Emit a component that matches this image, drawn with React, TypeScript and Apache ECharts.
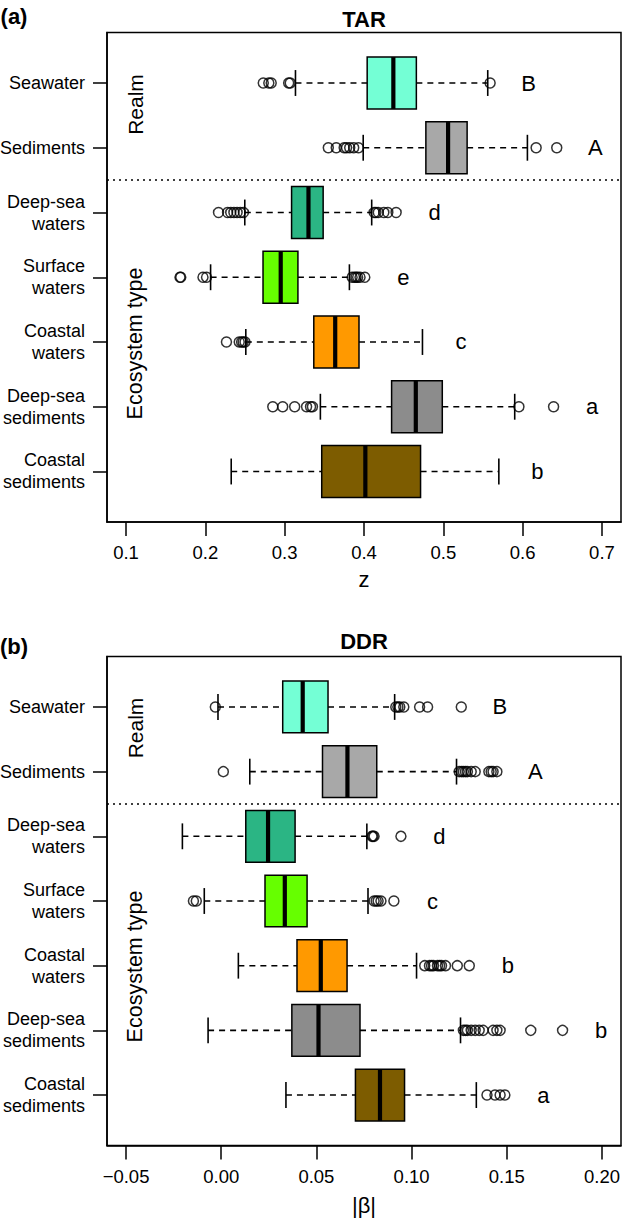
import React, { useEffect, useRef } from "react";
import * as echarts from "echarts";

const ROWS = [
  "Seawater",
  "Sediments",
  "Deep-sea\nwaters",
  "Surface\nwaters",
  "Coastal\nwaters",
  "Deep-sea\nsediments",
  "Coastal\nsediments",
];
const ROW_COLORS = ["#74FFD5", "#A8A8A8", "#2BB584", "#66FF00", "#FF9900", "#8C8C8C", "#7D5C00"];

// [lower whisker, Q1, median, Q3, upper whisker]
const TAR_STATS = [
  [0.3136, 0.404, 0.437, 0.466, 0.556],
  [0.399, 0.478, 0.506, 0.53, 0.606],
  [0.2497, 0.3087, 0.33, 0.3485, 0.4097],
  [0.2066, 0.2727, 0.295, 0.3167, 0.3816],
  [0.251, 0.3367, 0.3637, 0.3937, 0.4737],
  [0.345, 0.4348, 0.4653, 0.4987, 0.59],
  [0.2326, 0.3467, 0.4017, 0.4713, 0.57],
];
const TAR_OUTLIERS = [
  [0.273, 0.28, 0.283, 0.305, 0.307, 0.559],
  [0.355, 0.365, 0.375, 0.378, 0.382, 0.387, 0.393, 0.617, 0.643],
  [0.2166, 0.228, 0.232, 0.236, 0.24, 0.244, 0.248, 0.4128, 0.415, 0.418, 0.425, 0.43, 0.4405],
  [0.168, 0.169, 0.197, 0.2015, 0.385, 0.388, 0.39, 0.392, 0.395, 0.401],
  [0.2266, 0.2427, 0.2457, 0.2477, 0.25],
  [0.285, 0.2975, 0.3126, 0.3276, 0.3326, 0.335, 0.5953, 0.639],
  [],
];
const TAR_LETTERS = ["B", "A", "d", "e", "c", "a", "b"];
const TAR_TICKS = [0.1, 0.2, 0.3, 0.4, 0.5, 0.6, 0.7];

const DDR_STATS = [
  [-0.0017, 0.0323, 0.0428, 0.0561, 0.0911],
  [0.015, 0.0532, 0.0663, 0.0817, 0.1236],
  [-0.0204, 0.0129, 0.0246, 0.0388, 0.0765],
  [-0.0089, 0.023, 0.0334, 0.0451, 0.0771],
  [0.009, 0.0398, 0.0523, 0.0661, 0.1026],
  [-0.0069, 0.0371, 0.0511, 0.0729, 0.1257],
  [0.034, 0.0705, 0.0834, 0.0963, 0.134],
];
const DDR_OUTLIERS = [
  [-0.0031, 0.0917, 0.0928, 0.0938, 0.0959, 0.1042, 0.1084, 0.1261],
  [0.0011, 0.125, 0.1262, 0.1272, 0.1283, 0.1293, 0.1313, 0.1334, 0.1406, 0.1418, 0.1428, 0.1448],
  [0.0792, 0.0797, 0.0803, 0.0944],
  [-0.0146, -0.0131, 0.0803, 0.0814, 0.0824, 0.0839, 0.0907],
  [0.1069, 0.1094, 0.1105, 0.1115, 0.1136, 0.1147, 0.1157, 0.1178, 0.124, 0.1303],
  [0.1272, 0.1283, 0.1293, 0.1313, 0.1334, 0.1355, 0.1376, 0.1428, 0.1448, 0.1465, 0.1626, 0.1793],
  [0.1396, 0.1438, 0.1465, 0.149],
];
const DDR_LETTERS = ["B", "A", "d", "c", "b", "b", "a"];
const DDR_TICKS = [-0.05, 0, 0.05, 0.1, 0.15, 0.2];

const FONT = "'Liberation Sans', Arial, Helvetica, sans-serif";
const ROW_VALUES = [1, 2, 3, 4, 5, 6, 7];

function boxSeries(stats: number[][], outliers: number[][], letters: string[], idx: number) {
  const data = stats.map((s, i) => {
    const all = [s[4], ...outliers[i]];
    return [i + 1, s[0], s[1], s[2], s[3], s[4], Math.max(...all)];
  });
  return {
    type: "custom",
    xAxisIndex: idx,
    yAxisIndex: idx,
    z: 2,
    encode: { x: [1, 2, 3, 4, 5, 6], y: 0 },
    data,
    renderItem: (params: any, api: any) => {
      const row = api.value(0);
      const lo = api.coord([api.value(1), row]);
      const q1 = api.coord([api.value(2), row]);
      const md = api.coord([api.value(3), row]);
      const q3 = api.coord([api.value(4), row]);
      const hi = api.coord([api.value(5), row]);
      const mx = api.coord([api.value(6), row]);
      const h = api.size([0, 0.8])[1];
      const y = lo[1];
      const dashed = { stroke: "#000", lineWidth: 1.6, lineDash: [6, 5] };
      const solid = { stroke: "#000", lineWidth: 1.6 };
      return {
        type: "group",
        children: [
          { type: "line", shape: { x1: lo[0], y1: y, x2: q1[0], y2: y }, style: dashed },
          { type: "line", shape: { x1: q3[0], y1: y, x2: hi[0], y2: y }, style: dashed },
          { type: "line", shape: { x1: lo[0], y1: y - h / 4, x2: lo[0], y2: y + h / 4 }, style: solid },
          { type: "line", shape: { x1: hi[0], y1: y - h / 4, x2: hi[0], y2: y + h / 4 }, style: solid },
          {
            type: "rect",
            shape: { x: q1[0], y: y - h / 2, width: q3[0] - q1[0], height: h },
            style: { fill: ROW_COLORS[params.dataIndex], stroke: "#000", lineWidth: 1.5 },
          },
          { type: "line", shape: { x1: md[0], y1: y - h / 2, x2: md[0], y2: y + h / 2 }, style: { stroke: "#000", lineWidth: 4.2 } },
          {
            type: "text",
            x: mx[0] + 38.5,
            y: y,
            style: {
              text: letters[params.dataIndex],
              fontSize: 22,
              fontFamily: FONT,
              fill: "#000",
              align: "center",
              verticalAlign: "middle",
            },
          },
        ],
      };
    },
    markLine: {
      silent: true,
      symbol: "none",
      label: { show: false },
      lineStyle: { color: "#000", width: 1.5, type: [2, 4] },
      data: [{ yAxis: 2.5 }],
    },
  };
}

function outlierSeries(outliers: number[][], idx: number) {
  const pts: number[][] = [];
  outliers.forEach((arr, i) => arr.forEach((v) => pts.push([v, i + 1])));
  return {
    type: "scatter",
    xAxisIndex: idx,
    yAxisIndex: idx,
    z: 3,
    symbol: "circle",
    symbolSize: 10,
    itemStyle: { color: "rgba(0,0,0,0)", borderColor: "#000", borderWidth: 1.5 },
    data: pts,
  };
}

function xAxisFor(idx: number, min: number, max: number, ticks: number[], fmt: (v: number) => string) {
  return {
    type: "value",
    gridIndex: idx,
    min,
    max,
    splitLine: { show: false },
    axisLine: { show: true, onZero: false, lineStyle: { color: "#000", width: 1.5 } },
    axisTick: { show: true, length: 14, lineStyle: { color: "#000", width: 1.5 }, customValues: ticks },
    axisLabel: {
      customValues: ticks,
      formatter: fmt,
      fontSize: 18.5,
      fontFamily: FONT,
      color: "#000",
      margin: 21,
    },
  };
}

function yAxisFor(idx: number) {
  return {
    type: "value",
    gridIndex: idx,
    min: 0.22,
    max: 7.78,
    inverse: true,
    splitLine: { show: false },
    axisLine: { show: true, onZero: false, lineStyle: { color: "#000", width: 1.5 } },
    axisTick: { show: true, length: 14, lineStyle: { color: "#000", width: 1.5 }, customValues: ROW_VALUES },
    axisLabel: {
      customValues: ROW_VALUES,
      formatter: (v: number) => ROWS[Math.round(v) - 1],
      fontSize: 18,
      lineHeight: 22,
      fontFamily: FONT,
      color: "#000",
      margin: 22,
      align: "right",
    },
  };
}

function txt(text: string, x: number, y: number, size: number, bold = false, rotation = 0) {
  return {
    type: "text",
    x,
    y,
    rotation,
    style: {
      text,
      fontSize: size,
      fontWeight: bold ? "bold" : "normal",
      fontFamily: FONT,
      fill: "#000",
      align: "center",
      verticalAlign: "middle",
    },
  };
}

export default function App() {
  const ref = useRef<HTMLDivElement>(null);
  useEffect(() => {
    if (!ref.current) return;
    const chart = echarts.init(ref.current, undefined, { renderer: "svg" });
    const fmtA = (v: number) => v.toFixed(1);
    const fmtB = (v: number) => (v < -1e-9 ? "\u2212" + Math.abs(v).toFixed(2) : Math.abs(v).toFixed(2));
    chart.setOption({
      animation: false,
      backgroundColor: "#fff",
      grid: [
        { left: 107, right: 1, top: 32.5, height: 489.5, show: true, borderColor: "#000", borderWidth: 1.5, outerBoundsMode: "none", containLabel: false },
        { left: 107, right: 1, top: 656.5, height: 489, show: true, borderColor: "#000", borderWidth: 1.5, outerBoundsMode: "none", containLabel: false },
      ],
      xAxis: [xAxisFor(0, 0.076, 0.724, TAR_TICKS, fmtA), xAxisFor(1, -0.06, 0.21, DDR_TICKS, fmtB)],
      yAxis: [yAxisFor(0), yAxisFor(1)],
      series: [
        boxSeries(TAR_STATS, TAR_OUTLIERS, TAR_LETTERS, 0),
        outlierSeries(TAR_OUTLIERS, 0),
        boxSeries(DDR_STATS, DDR_OUTLIERS, DDR_LETTERS, 1),
        outlierSeries(DDR_OUTLIERS, 1),
      ],
      graphic: [
        txt("(a)", 14, 16, 22, true),
        txt("TAR", 364, 19, 22, true),
        txt("z", 364, 579, 22),
        txt("Realm", 135, 104.5, 21, false, Math.PI / 2),
        txt("Ecosystem type", 135, 343.5, 21.5, false, Math.PI / 2),
        txt("(b)", 14, 646, 22, true),
        txt("DDR", 364, 641, 22, true),
        txt("|\u03b2|", 364, 1205, 22),
        txt("Realm", 135, 728, 21, false, Math.PI / 2),
        txt("Ecosystem type", 135, 966.5, 21.5, false, Math.PI / 2),
      ],
    });
    return () => chart.dispose();
  }, []);
  return <div ref={ref} style={{ position: "absolute", left: 0, top: 0, width: 622, height: 1222 }} />;
}
